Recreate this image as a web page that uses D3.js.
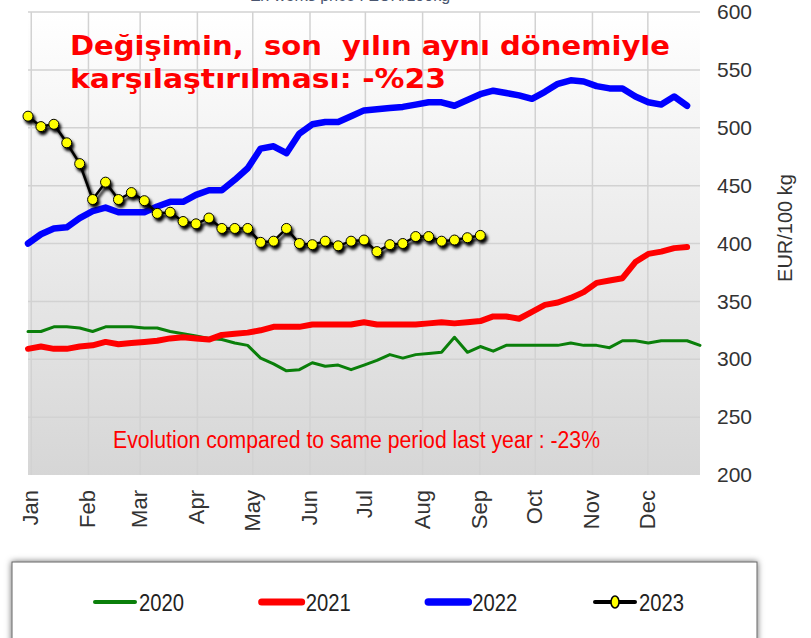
<!DOCTYPE html>
<meta charset="utf-8">
<style>
  body { margin: 0; background: #fff; }
  svg { display: block; }
</style>
<svg width="811" height="638"></svg>

<script src="https://d3js.org/d3.v7.min.js"></script>
<script>

// weekly prices, EUR/100 kg, week 0 = first week of January
var prices2020 = [324, 324, 328, 328, 327, 324, 328, 328, 328, 327, 327, 324, 322, 320, 318, 317, 314, 312, 301, 296,
  290, 291, 297, 294, 295, 291, 295, 299, 304, 301, 304, 305, 306, 319, 306, 311, 307, 312, 312, 312,
  312, 312, 314, 312, 312, 310, 316, 316, 314, 316, 316, 316, 312]
var prices2021 = [309, 311, 309, 309, 311, 312, 315, 313, 314, 315, 316, 318, 319, 318, 317, 321, 322, 323, 325, 328,
  328, 328, 330, 330, 330, 330, 332, 330, 330, 330, 330, 331, 332, 331, 332, 333, 337, 337, 335, 341,
  347, 349, 353, 358, 366, 368, 370, 384, 391, 393, 396, 397]
var prices2022 = [400, 408, 413, 414, 422, 428, 431, 427, 427, 427, 432, 436, 436, 442, 446, 446, 455, 465, 482, 484,
  478, 495, 503, 505, 505, 510, 515, 516, 517, 518, 520, 522, 522, 519, 524, 529, 532, 530, 528, 525,
  531, 538, 541, 540, 536, 534, 534, 527, 522, 520, 527, 519]
var prices2023 = [510, 501, 503, 487, 469, 438, 453, 438, 444, 437, 426, 427, 419, 417, 422, 413, 413, 413, 401, 402,
  413, 400, 399, 402, 398, 402, 403, 393, 399, 400, 406, 406, 402, 403, 405, 407]

var years = ["2020", "2021", "2022", "2023"]
var months = ["Jan", "Feb", "Mar", "Apr", "May", "Jun", "Jul", "Aug", "Sep", "Oct", "Nov", "Dec"]
var yTicks = [200, 250, 300, 350, 400, 450, 500, 550, 600]

var headline = ["Değişimin,  son  yılın aynı dönemiyle", "karşılaştırılması: -%23"]
var headlineWidths = [600, 376]
var note = "Evolution compared to same period last year : -23%"
var unitLabel = "EUR/100 kg"
var topTitle = "Ex-works price : EUR/100kg"

var series = [
  { name: years[0], values: prices2020, color: "#0a7f0a", width: 3 },
  { name: years[1], values: prices2021, color: "#ff0000", width: 6 },
  { name: years[2], values: prices2022, color: "#0000ff", width: 6.5 },
  { name: years[3], values: prices2023, color: "#000000", width: 2.5, dots: true }
]

var plot = { left: 28, right: 700, top: 12, bottom: 475 }

var svg = d3.select("svg")
var defs = svg.append("defs")

// background gradient white -> light grey
var grad = defs.append("linearGradient")
  .attr("id", "bg").attr("x1", 0).attr("y1", 0).attr("x2", 0).attr("y2", 1)
grad.append("stop").attr("offset", "0%").attr("stop-color", "#ffffff")
grad.append("stop").attr("offset", "100%").attr("stop-color", "#d6d6d6")

var shadow = defs.append("filter").attr("id", "shadow")
  .attr("x", "-10%").attr("y", "-10%").attr("width", "130%").attr("height", "140%")
shadow.append("feDropShadow")
  .attr("dx", 2).attr("dy", 3).attr("stdDeviation", 1.4)
  .attr("flood-color", "#000").attr("flood-opacity", 1)

var boxShadow = defs.append("filter").attr("id", "boxShadow")
  .attr("x", "-5%").attr("y", "-20%").attr("width", "110%").attr("height", "150%")
boxShadow.append("feDropShadow")
  .attr("dx", 0).attr("dy", 0).attr("stdDeviation", 3)
  .attr("flood-color", "#000").attr("flood-opacity", 0.6)

var x = d3.scaleLinear().domain([0, 52]).range([plot.left, plot.right])
var y = d3.scaleLinear().domain([200, 600]).range([plot.bottom, plot.top])

// month start expressed in weeks
var jan1 = new Date(2023, 0, 1)
function monthWeek(i) {
  return d3.timeDay.count(jan1, new Date(2023, i, 1)) / 7 + 0.25
}

// title of the source chart, cropped at the top edge like in the original
svg.append("text")
  .attr("x", 350).attr("y", 1)
  .attr("text-anchor", "middle")
  .style("font-family", "Liberation Sans, sans-serif")
  .style("font-size", "16px")
  .style("fill", "#4a5670")
  .text(topTitle)

svg.append("rect")
  .attr("x", plot.left).attr("y", plot.top)
  .attr("width", plot.right - plot.left).attr("height", plot.bottom - plot.top)
  .attr("fill", "url(#bg)")

// grid
svg.append("g").selectAll("line")
  .data(yTicks.slice(1))
  .enter().append("line")
    .attr("x1", plot.left).attr("x2", plot.right)
    .attr("y1", function (d) { return y(d) }).attr("y2", function (d) { return y(d) })
    .attr("stroke", "#d2d2d2").attr("stroke-width", 1.5)

svg.append("g").selectAll("line")
  .data(months)
  .enter().append("line")
    .attr("x1", function (d, i) { return x(monthWeek(i)) })
    .attr("x2", function (d, i) { return x(monthWeek(i)) })
    .attr("y1", plot.top).attr("y2", plot.bottom)
    .attr("stroke", "#d2d2d2").attr("stroke-width", 1.5)

// right axis
var yAxis = svg.append("g")
  .attr("transform", "translate(" + (plot.right + 17) + ",0)")
  .call(d3.axisRight(y).tickValues(yTicks).tickSize(0).tickPadding(0))
yAxis.select(".domain").remove()
yAxis.selectAll("text")
  .style("font-family", "Liberation Sans, Arial, sans-serif")
  .style("font-size", "21px")
  .style("fill", "#333")

svg.append("text")
  .attr("transform", "translate(792,228) rotate(-90)")
  .attr("text-anchor", "middle")
  .style("font-family", "Liberation Sans, Arial, sans-serif")
  .style("font-size", "20px")
  .style("fill", "#333")
  .text(unitLabel)

// month labels, rotated
svg.append("g").selectAll("text")
  .data(months)
  .enter().append("text")
    .attr("transform", function (d, i) { return "translate(" + (x(monthWeek(i)) + 7) + ",490) rotate(-90)" })
    .attr("text-anchor", "end")
    .style("font-family", "Liberation Sans, Arial, sans-serif")
    .style("font-size", "22px")
    .style("fill", "#333")
    .text(function (d) { return d })

// series lines
var line = d3.line()
  .x(function (d, i) { return x(i) })
  .y(function (d) { return y(d) })

series.forEach(function (s) {
  var g = svg.append("g")
  if (s.dots) g.attr("filter", "url(#shadow)")
  g.append("path")
    .datum(s.values)
    .attr("d", line)
    .attr("fill", "none")
    .attr("stroke", s.color)
    .attr("stroke-width", s.width)
    .attr("stroke-linejoin", "round")
    .attr("stroke-linecap", "round")
  if (s.dots) {
    g.selectAll("circle")
      .data(s.values)
      .enter().append("circle")
        .attr("cx", function (d, i) { return x(i) })
        .attr("cy", function (d) { return y(d) })
        .attr("r", 5)
        .attr("fill", "#ffff00")
        .attr("stroke", "#000")
        .attr("stroke-width", 1)
  }
})

// red annotations
svg.append("g").selectAll("text")
  .data(headline)
  .enter().append("text")
    .attr("x", 70)
    .attr("y", function (d, i) { return 55 + i * 33 })
    .attr("textLength", function (d, i) { return headlineWidths[i] })
    .attr("lengthAdjust", "spacingAndGlyphs")
    .style("font-family", "DejaVu Sans, Verdana, sans-serif")
    .style("font-weight", "bold")
    .style("font-size", "27px")
    .style("fill", "#ff0000")
    .style("white-space", "pre")
    .text(function (d) { return d })

svg.append("text")
  .attr("x", 113).attr("y", 448)
  .attr("textLength", 487).attr("lengthAdjust", "spacingAndGlyphs")
  .style("font-family", "Liberation Sans Narrow, Liberation Sans, sans-serif")
  .style("font-size", "23px")
  .style("fill", "#ff0000")
  .text(note)

// legend
svg.append("rect")
  .attr("x", 12).attr("y", 562)
  .attr("width", 745).attr("height", 100)
  .attr("fill", "#fff")
  .attr("stroke", "#666").attr("stroke-width", 1)
  .attr("filter", "url(#boxShadow)")

var legendX = d3.scalePoint().domain(years).range([95, 595])

var item = svg.append("g").selectAll("g")
  .data(series)
  .enter().append("g")
    .attr("transform", function (d) { return "translate(" + legendX(d.name) + ",602)" })

item.append("line")
  .attr("x1", 0).attr("x2", 40)
  .attr("stroke", function (d) { return d.color })
  .attr("stroke-width", function (d) { return d.dots ? 4 : d.width + 1 })
  .attr("stroke-linecap", "round")

item.filter(function (d) { return d.dots }).append("ellipse")
  .attr("cx", 20).attr("rx", 4).attr("ry", 6)
  .attr("fill", "#ffff00").attr("stroke", "#000").attr("stroke-width", 1.5)

item.append("text")
  .attr("x", 44).attr("y", 9)
  .attr("textLength", 45).attr("lengthAdjust", "spacingAndGlyphs")
  .style("font-family", "Liberation Sans Narrow, Liberation Sans, sans-serif")
  .style("font-size", "24px")
  .style("fill", "#222")
  .text(function (d) { return d.name })

</script>
